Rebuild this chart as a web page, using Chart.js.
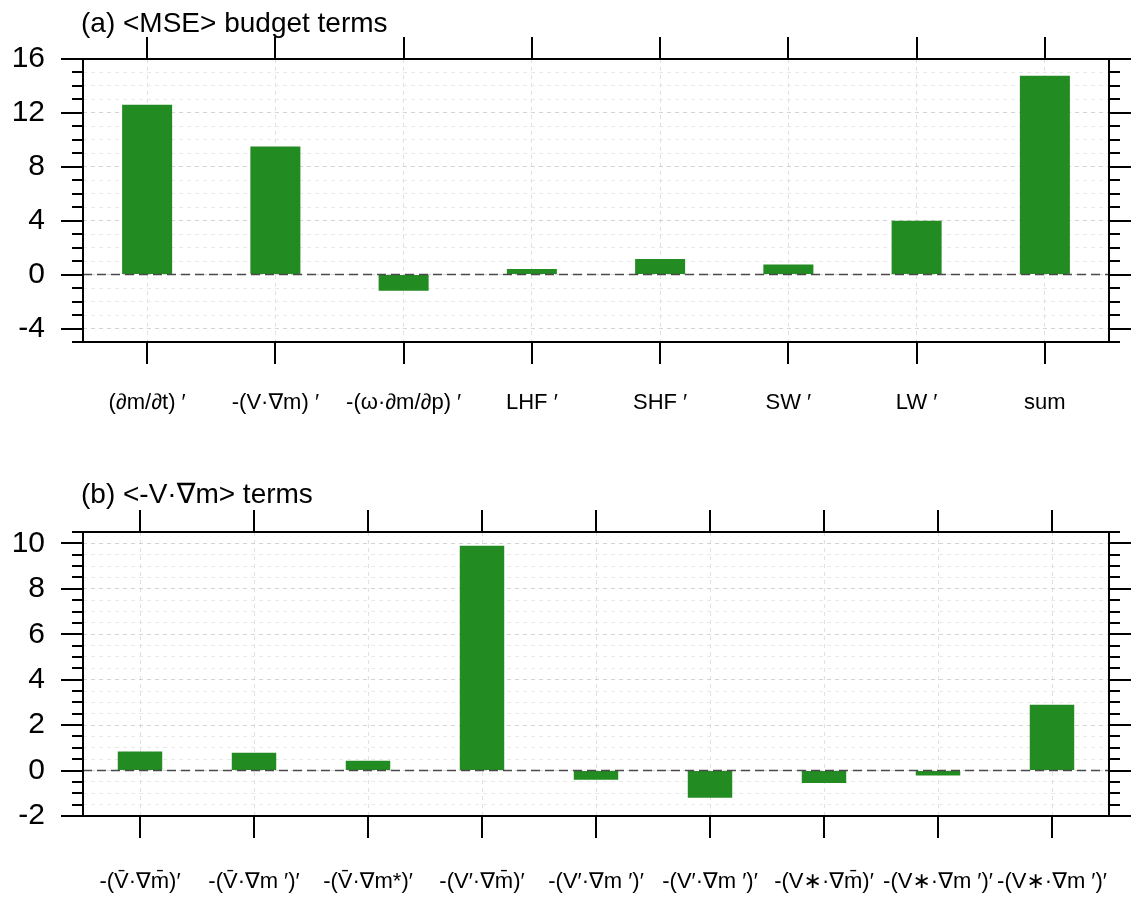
<!DOCTYPE html>
<html>
<head>
<meta charset="utf-8">
<script src="https://cdn.jsdelivr.net/npm/chart.js@4.4.1/dist/chart.umd.min.js"></script>
<style>
  body { margin: 0; background: #fff; }
  canvas { position: absolute; left: 0; }
  #mseChart { top: 0; }
  #advChart { top: 440px; }
</style>
</head>
<body>
<canvas id="mseChart" width="1133" height="440"></canvas>
<canvas id="advChart" width="1133" height="457"></canvas>
<script>
// (a) column-integrated MSE budget terms
var mseLabels = ["(\u2202m/\u2202t) \u2032", "-(V\u00b7\u2207m) \u2032", "-(\u03c9\u00b7\u2202m/\u2202p) \u2032",
                 "LHF \u2032", "SHF \u2032", "SW \u2032", "LW \u2032", "sum"];
var mseValues = [12.6, 9.5, -1.2, 0.42, 1.15, 0.75, 4.0, 14.75];
var mseTickLabels = [-4, 0, 4, 8, 12, 16];

// (b) decomposition of the horizontal advection term
var advLabels = ["-(V\u0304\u00b7\u2207m\u0304)\u2032", "-(V\u0304\u00b7\u2207m \u2032)\u2032", "-(V\u0304\u00b7\u2207m*)\u2032",
                 "-(V\u2032\u00b7\u2207m\u0304)\u2032", "-(V\u2032\u00b7\u2207m \u2032)\u2032", "-(V\u2032\u00b7\u2207m \u2032)\u2032",
                 "-(V\u2217\u00b7\u2207m\u0304)\u2032", "-(V\u2217\u00b7\u2207m \u2032)\u2032", "-(V\u2217\u00b7\u2207m \u2032)\u2032"];
var advValues = [0.84, 0.78, 0.43, 9.9, -0.4, -1.2, -0.55, -0.22, 2.9];
var advTickLabels = [-2, 0, 2, 4, 6, 8, 10];

var FONT = '"Liberation Sans", "DejaVu Sans", Arial, sans-serif';

// frame, outward tick marks, dashed zero line and panel title
var frameTicks = {
  id: 'frameTicks',
  afterDraw: function(chart, args, opts) {
    var ctx = chart.ctx, area = chart.chartArea;
    var x = chart.scales.x, y = chart.scales.y;
    ctx.save();

    var y0 = y.getPixelForValue(0);
    ctx.strokeStyle = '#4a4a4a';
    ctx.lineWidth = 1.5;
    ctx.setLineDash([9, 5]);
    ctx.beginPath();
    ctx.moveTo(area.left, y0);
    ctx.lineTo(area.right, y0);
    ctx.stroke();
    ctx.setLineDash([]);

    ctx.strokeStyle = '#000';
    ctx.lineWidth = 2;
    ctx.strokeRect(area.left, area.top, area.right - area.left, area.bottom - area.top);

    ctx.beginPath();
    y.ticks.forEach(function(t) {
      var py = Math.round(y.getPixelForValue(t.value));
      var r = t.value / opts.majorStep;
      var len = Math.abs(r - Math.round(r)) < 1e-6 ? 22 : 11;
      ctx.moveTo(area.left - len, py);
      ctx.lineTo(area.left, py);
      ctx.moveTo(area.right, py);
      ctx.lineTo(area.right + len, py);
    });
    x.ticks.forEach(function(t, i) {
      var px = Math.round(x.getPixelForTick(i));
      ctx.moveTo(px, area.top - 22);
      ctx.lineTo(px, area.top);
      ctx.moveTo(px, area.bottom);
      ctx.lineTo(px, area.bottom + 22);
    });
    ctx.stroke();

    ctx.fillStyle = '#000';
    ctx.font = '28px ' + FONT;
    ctx.textAlign = 'left';
    ctx.textBaseline = 'alphabetic';
    ctx.fillText(opts.text, 81, opts.baseline);
    ctx.restore();
  }
};

function makeChart(id, labels, values, tickLabels, cfg) {
  return new Chart(id, {
    type: 'bar',
    data: {
      labels: labels,
      datasets: [{
        data: values,
        backgroundColor: '#228b22',
        borderWidth: 0,
        categoryPercentage: 1.0,
        barPercentage: 0.39
      }]
    },
    options: {
      responsive: false,
      animation: false,
      layout: { padding: { top: cfg.top, right: 24, left: 0, bottom: 0 } },
      plugins: {
        legend: { display: false },
        tooltip: { enabled: false },
        frameTicks: { text: cfg.title, baseline: cfg.titleBaseline, majorStep: cfg.majorStep }
      },
      scales: {
        x: {
          z: 1,
          offset: true,
          afterFit: function(scale) {
            scale.height = cfg.bottom;
            scale.paddingLeft = 0;
            scale.paddingRight = 0;
          },
          grid: { offset: false, drawTicks: false, color: 'rgba(205,205,205,0.6)', lineWidth: 1 },
          border: { display: false, dash: [4, 4] },
          ticks: {
            autoSkip: false, maxRotation: 0, minRotation: 0,
            padding: cfg.labelPad, color: '#000',
            font: { family: FONT, size: 22 }
          }
        },
        y: {
          z: 1,
          min: cfg.min,
          max: cfg.max,
          // one tick per minor step, labels only on the majors
          afterBuildTicks: function(scale) {
            var ticks = [];
            for (var v = cfg.min; v <= cfg.max + 1e-9; v += cfg.step) {
              ticks.push({ value: Math.round(v * 100) / 100 });
            }
            scale.ticks = ticks;
          },
          afterFit: function(scale) {
            scale.width = 83;
            scale.paddingTop = 0;
            scale.paddingBottom = 0;
          },
          grid: {
            drawTicks: false,
            lineWidth: 1,
            color: function(c) {
              return tickLabels.indexOf(c.tick.value) >= 0 ? 'rgba(190,190,190,0.65)' : 'rgba(215,215,215,0.55)';
            }
          },
          border: { display: false, dash: [4, 4] },
          ticks: {
            autoSkip: false,
            padding: 38,
            color: '#000',
            font: { family: FONT, size: 30 },
            callback: function(v) { return tickLabels.indexOf(v) >= 0 ? String(v) : ''; }
          }
        }
      }
    },
    plugins: [frameTicks]
  });
}

var mseChart = makeChart('mseChart', mseLabels, mseValues, mseTickLabels, {
  title: '(a) <MSE> budget terms', titleBaseline: 32,
  top: 59, bottom: 98, labelPad: 48,
  min: -5, max: 16, step: 1, majorStep: 4
});

var advChart = makeChart('advChart', advLabels, advValues, advTickLabels, {
  title: '(b) <-V\u00b7\u2207m> terms', titleBaseline: 63,
  top: 92, bottom: 81, labelPad: 53,
  min: -2, max: 10.5, step: 0.5, majorStep: 2
});
</script>
</body>
</html>
